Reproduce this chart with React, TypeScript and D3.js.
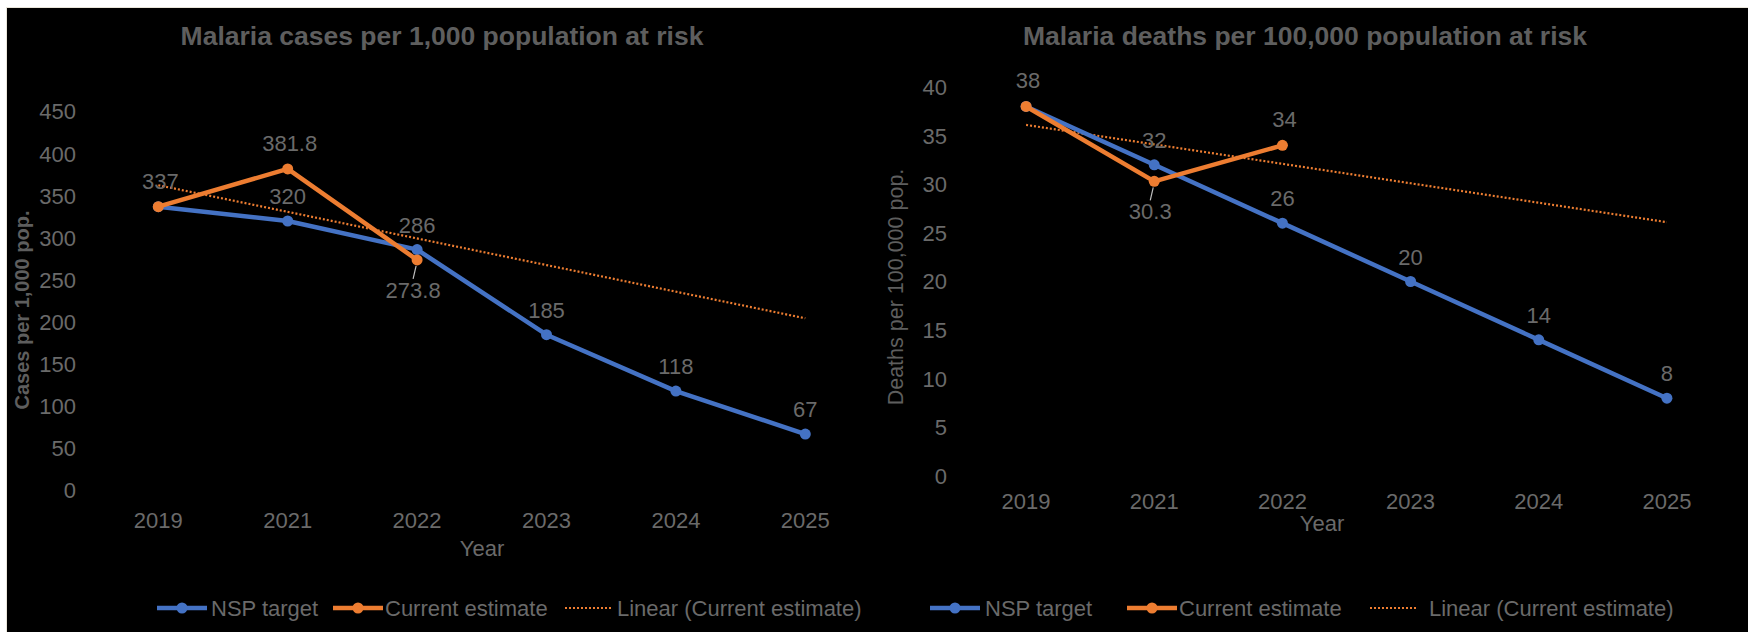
import React from "react";
import * as d3 from "d3";

const years = ["2019", "2021", "2022", "2023", "2024", "2025"];
const casesTarget = [337, 320, 286, 185, 118, 67];
const casesEstimate = [337, 381.8, 273.8];
const deathsTarget = [38, 32, 26, 20, 14, 8];
const deathsEstimate = [38, 30.3, 34];
const casesTicks = [0, 50, 100, 150, 200, 250, 300, 350, 400, 450];
const deathsTicks = [0, 5, 10, 15, 20, 25, 30, 35, 40];

const BLUE = "#4472C4";
const ORANGE = "#ED7D31";
const TICK = "#6a6a6a";
const TITLE = "#5e5e5e";
const FONT = "'Liberation Sans', Arial, sans-serif";

function regression(vals: number[]) {
  const xs = vals.map((_, i) => i + 1);
  const mx = d3.mean(xs) as number;
  const my = d3.mean(vals) as number;
  let num = 0, den = 0;
  xs.forEach((x, i) => { num += (x - mx) * (vals[i] - my); den += (x - mx) * (x - mx); });
  const slope = num / den;
  return (x: number) => my + slope * (x - mx);
}

type PanelProps = {
  title: string;
  titleX: number;
  yTitle: string;
  yTitleBold: boolean;
  yTitleX: number;
  yTitleY: number;
  yTitleSize: number;
  target: number[];
  estimate: number[];
  ticks: number[];
  domainMax: number;
  xRange: [number, number];
  yRange: [number, number];
  tickLabelRight: number;
  xTickBaseline: number;
  yearX: number;
  yearY: number;
  estLabelBelow: number;
  hideTargetLabel: number;
  legendX: number[];
};

function Panel(p: PanelProps) {
  const x = d3.scalePoint<string>().domain(years).range(p.xRange).padding(0.5);
  const y = d3.scaleLinear().domain([0, p.domainMax]).range(p.yRange);
  const line = d3.line<number>().x((_, i) => x(years[i]) as number).y((d) => y(d));
  const reg = regression(p.estimate);
  const trend = years.map((_, i) => reg(i + 1));
  const fs = 22;
  const legY = 608;
  const [l1, t1, l2, t2, l3, t3] = p.legendX;
  return (
    <g fontFamily={FONT}>
      <text x={p.titleX} y={45} textAnchor="middle" fontSize={26.5} fontWeight="bold" fill={TITLE}>{p.title}</text>
      <text
        transform={`translate(${p.yTitleX},${p.yTitleY}) rotate(-90)`}
        textAnchor="middle"
        fontSize={p.yTitleSize}
        fontWeight={p.yTitleBold ? "bold" : "normal"}
        fill={TITLE}
        dy="0.35em"
      >{p.yTitle}</text>
      {p.ticks.map((t) => (
        <text key={t} x={p.tickLabelRight} y={y(t)} dy="0.36em" textAnchor="end" fontSize={fs} fill={TICK}>{t}</text>
      ))}
      {years.map((yr) => (
        <text key={yr} x={x(yr)} y={p.xTickBaseline} textAnchor="middle" fontSize={fs} fill={TICK}>{yr}</text>
      ))}
      <text x={p.yearX} y={p.yearY} textAnchor="middle" fontSize={fs} fill={TICK}>Year</text>
      <path d={line(trend) as string} fill="none" stroke={ORANGE} strokeWidth={2.2} strokeDasharray="2,2" />
      <path d={line(p.target) as string} fill="none" stroke={BLUE} strokeWidth={4.5} strokeLinejoin="round" />
      {p.target.map((v, i) => (
        <circle key={"tc" + i} cx={x(years[i])} cy={y(v)} r={5.5} fill={BLUE} />
      ))}
      <path d={line(p.estimate) as string} fill="none" stroke={ORANGE} strokeWidth={4.5} strokeLinejoin="round" />
      {p.estimate.map((v, i) => (
        <circle key={"ec" + i} cx={x(years[i])} cy={y(v)} r={5.5} fill={ORANGE} />
      ))}
      {p.target.map((v, i) =>
        i === p.hideTargetLabel ? null : (
          <text key={"tl" + i} x={x(years[i])} y={y(v) - 17} textAnchor="middle" fontSize={fs} fill={TICK}>{v}</text>
        )
      )}
      {p.estimate.map((v, i) => {
        const cx = x(years[i]) as number;
        const cy = y(v);
        if (i === p.estLabelBelow) {
          return (
            <g key={"el" + i}>
              <line x1={cx - 1} y1={cy + 6} x2={cx - 4} y2={cy + 19} stroke="#bfbfbf" strokeWidth={1.2} />
              <text x={cx - 4} y={cy + 38} textAnchor="middle" fontSize={fs} fill={TICK}>{v}</text>
            </g>
          );
        }
        return <text key={"el" + i} x={cx + 2} y={cy - 18} textAnchor="middle" fontSize={fs} fill={TICK}>{v}</text>;
      })}
      <line x1={l1} x2={l1 + 50} y1={legY} y2={legY} stroke={BLUE} strokeWidth={4.5} />
      <circle cx={l1 + 25} cy={legY} r={5.5} fill={BLUE} />
      <text x={t1} y={legY + 8} fontSize={fs} fill={TICK}>NSP target</text>
      <line x1={l2} x2={l2 + 50} y1={legY} y2={legY} stroke={ORANGE} strokeWidth={4.5} />
      <circle cx={l2 + 25} cy={legY} r={5.5} fill={ORANGE} />
      <text x={t2} y={legY + 8} fontSize={fs} fill={TICK}>Current estimate</text>
      <line x1={l3} x2={l3 + 46} y1={legY} y2={legY} stroke={ORANGE} strokeWidth={2.2} strokeDasharray="2,2" />
      <text x={t3} y={legY + 8} fontSize={fs} fill={TICK}>Linear (Current estimate)</text>
    </g>
  );
}

export default function App() {
  return (
    <svg
      width={1748}
      height={632}
      style={{ position: "absolute", left: 0, top: 0, display: "block" }}
    >
      <rect x={0} y={0} width={1748} height={632} fill="#ffffff" />
      <rect x={6} y={7} width={1742} height={625} fill="#e9e5da" />
      <rect x={7} y={8} width={1741} height={624} fill="#000000" />
      <Panel
        title="Malaria cases per 1,000 population at risk"
        titleX={442}
        yTitle="Cases per 1,000 pop."
        yTitleBold={true}
        yTitleX={22}
        yTitleY={310}
        yTitleSize={20}
        target={casesTarget}
        estimate={casesEstimate}
        ticks={casesTicks}
        domainMax={450}
        xRange={[93.6, 870]}
        yRange={[490.5, 111.5]}
        tickLabelRight={76}
        xTickBaseline={528}
        yearX={482}
        yearY={556}
        estLabelBelow={2}
        hideTargetLabel={0}
        legendX={[157, 211, 333, 385, 565, 617]}
      />
      <Panel
        title="Malaria deaths per 100,000 population at risk"
        titleX={1305}
        yTitle="Deaths per 100,000 pop."
        yTitleBold={false}
        yTitleX={895}
        yTitleY={287}
        yTitleSize={21.5}
        target={deathsTarget}
        estimate={deathsEstimate}
        ticks={deathsTicks}
        domainMax={40}
        xRange={[962, 1731]}
        yRange={[476, 87]}
        tickLabelRight={947}
        xTickBaseline={509}
        yearX={1322}
        yearY={531}
        estLabelBelow={1}
        hideTargetLabel={0}
        legendX={[930, 985, 1127, 1179, 1370, 1429]}
      />
    </svg>
  );
}
